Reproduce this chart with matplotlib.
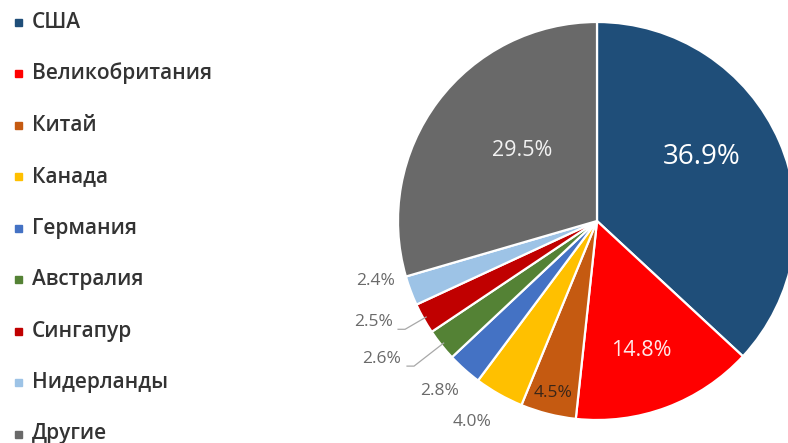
import matplotlib
matplotlib.use("Agg")
import matplotlib.pyplot as plt
from matplotlib.patches import Rectangle
import numpy as np

countries = ["США", "Великобритания", "Китай", "Канада", "Германия",
             "Австралия", "Сингапур", "Нидерланды", "Другие"]
shares = [36.9, 14.8, 4.5, 4.0, 2.8, 2.6, 2.5, 2.4, 29.5]
labels = ["36.9%", "14.8%", "4.5%", "4.0%", "2.8%", "2.6%", "2.5%", "2.4%", "29.5%"]
colors = ["#1F4E79", "#FF0000", "#C55A11", "#FFC000", "#4472C4",
          "#548235", "#C00000", "#9DC3E6", "#696969"]

# label styling: (radius factor, angle offset deg, font size, color)
label_style = [
    (0.618, 7.8, 20, "white"),
    (0.685, -1.7, 15.5, "#ffe8e8"),
    (0.892, -0.1, 12.5, "#3a2618"),
    (1.19, -2.4, 12.5, "#6a6a6a"),
    (1.166, -1.1, 12.5, "#6a6a6a"),
    (1.284, -5.8, 12.5, "#6a6a6a"),
    (1.235, -5.0, 12.5, "#6a6a6a"),
    (1.151, -5.3, 12.5, "#6a6a6a"),
    (0.519, -6.5, 15.5, "#f2f2f2"),
]
leader = [False, False, False, False, False, True, True, False, False]

W, H = 788, 443
fig = plt.figure(figsize=(W / 100, H / 100), dpi=100)
ax = fig.add_axes([0, 0, 1, 1])

cx, cy, R = 597, H - 221, 199
wedges, _ = ax.pie(shares, colors=colors, startangle=90, counterclock=False,
                   center=(cx, cy), radius=R, frame=True,
                   wedgeprops=dict(edgecolor="white", linewidth=1.6))
ax.set_xlim(0, W)
ax.set_ylim(0, H)
ax.set_aspect("equal")
ax.axis("off")

font = ["Open Sans", "DejaVu Sans"]
for w, lab, (rf, dang, fs, col), ld in zip(wedges, labels, label_style, leader):
    mid = (w.theta1 + w.theta2) / 2
    a = np.deg2rad(mid + dang)
    tx, ty = cx + rf * R * np.cos(a), cy + rf * R * np.sin(a)
    ax.text(tx, ty, lab, ha="center", va="center", fontsize=fs, color=col,
            family=font)
    if ld:
        am = np.deg2rad(mid)
        ex, ey = cx + (R - 3) * np.cos(am), cy + (R - 3) * np.sin(am)
        ax.plot([tx + 25, tx + 32, ex], [ty - 7, ty - 7, ey],
                color="#a8a8a8", lw=0.9)

# legend
for i, (name, c) in enumerate(zip(countries, colors)):
    y = H - (22 + i * 51.5)
    ax.add_patch(Rectangle((15, y - 3.5), 7, 7, color=c))
    ax.text(32, y, name, ha="left", va="center", fontsize=15,
            color="#333333", family=font, fontweight="semibold")

fig.savefig("out.png", dpi=100)
